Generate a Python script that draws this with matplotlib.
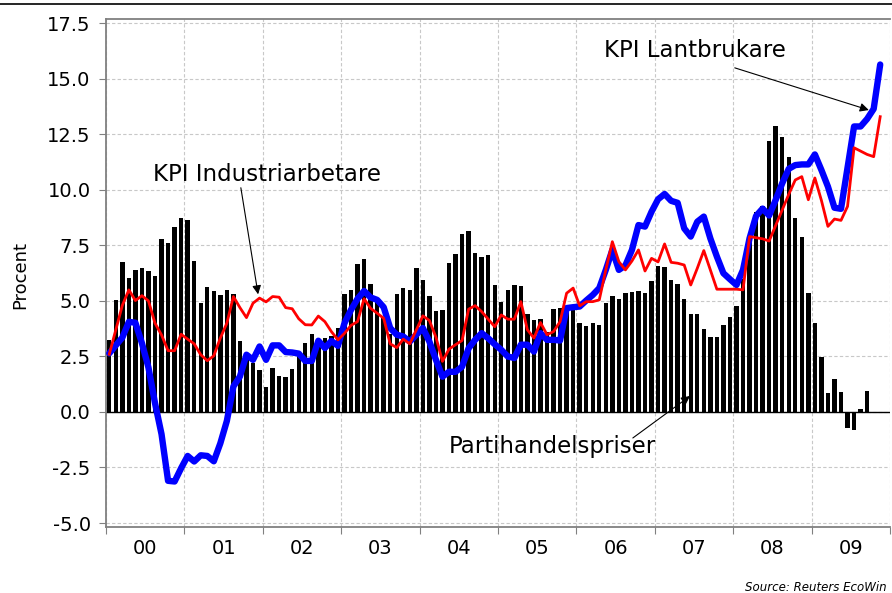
import numpy as np
import matplotlib
matplotlib.use("Agg")
import matplotlib.pyplot as plt
from matplotlib.lines import Line2D

# monthly values, jan 2000 ->
partihandel = [3.24, 5.05, 6.74, 6.03, 6.38, 6.47, 6.34, 6.12, 7.78, 7.6, 8.32, 8.72,
               8.63, 6.79, 4.9, 5.62, 5.46, 5.26, 5.49, 5.3, 3.2, 2.65, 2.2, 1.9,
               1.14, 1.99, 1.63, 1.59, 1.95, 2.5, 3.1, 3.5, 3.28, 3.35, 3.4, 3.8,
               5.3, 5.5, 6.67, 6.88, 5.77, 5.0, 4.3, 3.5, 5.3, 5.59, 5.5, 6.49,
               5.95, 5.23, 4.57, 4.6, 6.71, 7.12, 8.02, 8.15, 7.16, 6.98, 7.07, 5.72,
               4.96, 5.5, 5.72, 5.68, 4.42, 4.15, 4.2, 3.6, 4.64, 4.7, 4.7, 4.6,
               4.0, 3.88, 4.0, 3.93, 4.9, 5.23, 5.09, 5.36, 5.41, 5.45, 5.36, 5.9,
               6.58, 6.53, 5.95, 5.77, 5.09, 4.42, 4.42, 3.75, 3.39, 3.39, 3.93, 4.29,
               4.78, 6.0, 7.8, 9.0, 9.3, 12.2, 12.9, 12.37, 11.5, 8.73, 7.88, 5.35,
               4.0, 2.48, 0.85, 1.48, 0.9, -0.74, -0.83, 0.13, 0.94]

kpi_industri = [2.6, 3.7, 4.8, 5.5, 5.02, 5.24, 5.0, 4.0, 3.47, 2.76, 2.76, 3.5,
                3.28, 3.07, 2.58, 2.31, 2.53, 3.33, 4.0, 5.2, 4.7, 4.25, 4.9, 5.13,
                4.96, 5.2, 5.17, 4.7, 4.65, 4.2, 3.93, 3.92, 4.32, 4.07, 3.62, 3.25,
                3.54, 3.9, 4.07, 5.1, 4.67, 4.45, 4.22, 3.07, 2.9, 3.28, 3.07, 3.7,
                4.33, 4.12, 3.37, 2.28, 2.83, 3.03, 3.22, 4.63, 4.79, 4.52, 4.18, 3.84,
                4.37, 4.18, 4.18, 4.97, 3.7, 3.33, 4.03, 3.48, 3.62, 4.07, 5.35, 5.58,
                4.78, 4.97, 4.97, 5.05, 6.4, 7.67, 6.77, 6.4, 6.8, 7.3, 6.35, 6.92,
                6.76, 7.57, 6.74, 6.7, 6.62, 5.72, 6.47, 7.27, 6.4, 5.53, 5.53, 5.53,
                5.53, 5.5, 7.9, 7.85, 7.8, 7.7, 8.4, 9.1, 9.8, 10.45, 10.6, 9.56,
                10.54, 9.53, 8.36, 8.69, 8.63, 9.26, 11.9, 11.75, 11.6, 11.5, 13.3]

kpi_lantbruk = [2.64, 3.0, 3.35, 4.06, 4.02, 3.1, 2.0, 0.4, -1.0, -3.1, -3.13, -2.53,
                -1.98, -2.23, -1.95, -1.98, -2.22, -1.41, -0.4, 1.15, 1.6, 2.58, 2.35, 2.95,
                2.35, 3.0, 3.0, 2.7, 2.68, 2.63, 2.3, 2.3, 3.21, 2.88, 3.2, 2.98,
                4.0, 4.6, 5.1, 5.45, 5.16, 5.05, 4.72, 3.78, 3.48, 3.4, 3.17, 3.48,
                3.78, 3.17, 2.35, 1.59, 1.81, 1.81, 2.04, 2.87, 3.25, 3.55, 3.32, 3.05,
                2.8, 2.5, 2.43, 3.03, 3.03, 2.72, 3.55, 3.25, 3.25, 3.22, 4.68, 4.72,
                4.75, 5.02, 5.27, 5.58, 6.4, 7.3, 6.4, 6.6, 7.3, 8.42, 8.35, 9.02,
                9.58, 9.82, 9.51, 9.42, 8.27, 7.9, 8.57, 8.8, 7.82, 7.0, 6.25, 5.98,
                5.72, 6.4, 7.82, 8.83, 9.16, 8.85, 9.55, 10.3, 10.95, 11.12, 11.15, 11.15,
                11.6, 10.9, 10.15, 9.2, 9.15, 11.0, 12.86, 12.86, 13.2, 13.65, 15.65]

year_labels = ["00", "01", "02", "03", "04", "05", "06", "07", "08", "09"]
y_ticks = [-5.0, -2.5, 0.0, 2.5, 5.0, 7.5, 10.0, 12.5, 15.0, 17.5]

x_bar = 2000 + (np.arange(len(partihandel)) + 0.5) / 12
x_line = 2000 + (np.arange(len(kpi_industri)) + 0.5) / 12

fig = plt.figure(figsize=(8.92, 5.93), dpi=100)
ax = fig.add_axes([106 / 892, 1 - 527 / 593, 784 / 892, 508 / 593])

ax.bar(x_bar, partihandel, width=0.68 / 12, color="black", zorder=2)
ax.axhline(0, color="black", lw=1.0, zorder=2.5)
ax.plot(x_line, kpi_lantbruk, color="#0000ff", lw=4.6, solid_joinstyle="round",
        solid_capstyle="round", zorder=3)
ax.plot(x_line, kpi_industri, color="#ff0000", lw=2.0, zorder=4)

ax.set_xlim(2000, 2010)
ax.set_ylim(-5.18, 17.7)
ax.set_yticks(y_ticks)
ax.set_yticklabels([f"{v:.1f}" for v in y_ticks], fontsize=14)
ax.set_xticks(range(2000, 2011))
ax.set_xticklabels([])
ax.set_xticks(np.arange(2000.5, 2010, 1), minor=True)
ax.set_xticklabels(year_labels, minor=True, fontsize=14)
ax.tick_params(axis="x", which="minor", length=0, pad=9)
ax.tick_params(axis="x", which="major", length=5, color="#808080")
ax.tick_params(axis="y", length=5, color="#808080", pad=6)

ax.grid(True, which="major", color="#c8c8c8", linestyle=(0, (3, 2)), lw=0.8)
ax.set_axisbelow(True)
for s in ["left", "bottom", "top"]:
    ax.spines[s].set_color("#808080")
    ax.spines[s].set_linewidth(1.3)
ax.spines["right"].set_visible(False)

fig.text(20 / 892, 1 - 275 / 593, "Procent", rotation=90, ha="center", va="center", fontsize=13)

# labels + arrows
arrow = dict(arrowstyle="-|>", color="black", lw=0.8, mutation_scale=13, shrinkA=0, shrinkB=0)
ax.text(2000.6, 10.4, "KPI Industriarbetare", fontsize=16.5, ha="left", va="baseline")
ax.annotate("", xy=(2001.94, 5.3), xytext=(2001.72, 10.1), arrowprops=arrow)

ax.text(2006.35, 15.99, "KPI Lantbrukare", fontsize=16.5, ha="left", va="baseline")
ax.annotate("", xy=(2009.73, 13.6), xytext=(2008.02, 15.5), arrowprops=arrow)

ax.text(2004.375, -1.85, "Partihandelspriser", fontsize=16.5, ha="left", va="baseline")
ax.annotate("", xy=(2007.45, 0.72), xytext=(2006.72, -1.17), arrowprops=arrow)

fig.text(745 / 892, 1 - 591 / 593, "Source: Reuters EcoWin", fontsize=8.5, style="italic",
         ha="left", va="baseline")
fig.add_artist(Line2D([0, 1], [1 - 3.5 / 593, 1 - 3.5 / 593], color="black", lw=1.2))

fig.savefig("out.png", dpi=100)
